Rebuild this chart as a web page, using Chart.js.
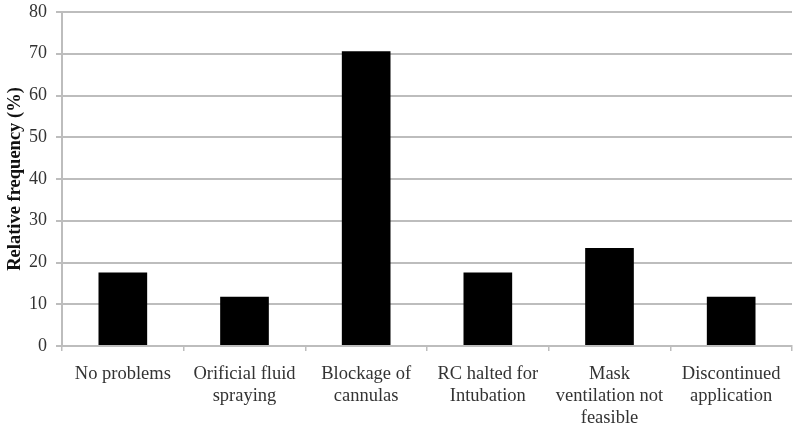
<!DOCTYPE html>
<html>
<head>
<meta charset="utf-8">
<script src="https://cdn.jsdelivr.net/npm/chart.js@4.4.1/dist/chart.umd.min.js"></script>
<style>
  html, body { margin: 0; padding: 0; background: #fff; }
  #wrap { width: 800px; height: 425px; position: relative; }
</style>
</head>
<body>
<div id="wrap"><canvas id="chart"></canvas></div>
<script>
// categories (multi-line labels as in the figure)
const categories = [
    ['No problems'],
    ['Orificial fluid', 'spraying'],
    ['Blockage of', 'cannulas'],
    ['RC halted for', 'Intubation'],
    ['Mask', 'ventilation not', 'feasible'],
    ['Discontinued', 'application']
];
// relative frequency (%)
const frequency = [17.6, 11.8, 70.6, 17.6, 23.5, 11.8];
const yTicks = { min: 0, max: 80, step: 10 };

const gridGray = '#bdbdbd';
const serif = '"Liberation Serif", "Times New Roman", serif';

new Chart(document.getElementById('chart'), {
    type: 'bar',
    data: {
        labels: categories,
        datasets: [{
            data: frequency,
            backgroundColor: '#000',
            borderWidth: 0,
            barPercentage: 0.4,
            categoryPercentage: 1.0
        }]
    },
    options: {
        responsive: true,
        maintainAspectRatio: false,
        animation: false,
        layout: { padding: { top: 12, right: 8, left: 0, bottom: 0 } },
        plugins: { legend: { display: false }, tooltip: { enabled: false } },
        scales: {
            x: {
                offset: true,
                grid: { offset: true, drawOnChartArea: false, color: gridGray, lineWidth: 1.5, tickLength: 5 },
                border: { color: gridGray, width: 2 },
                ticks: { color: '#333', font: { family: serif, size: 18.5, lineHeight: 1.2 }, maxRotation: 0, autoSkip: false, padding: 12 },
                afterFit: (axis) => { axis.height = 79; }
            },
            y: {
                min: yTicks.min,
                max: yTicks.max,
                grid: { color: gridGray, lineWidth: 2, tickLength: 6 },
                border: { color: gridGray, width: 2 },
                ticks: { stepSize: yTicks.step, color: '#333', font: { family: serif, size: 18 }, padding: 9 },
                title: {
                    display: true,
                    text: 'Relative frequency (%)',
                    color: '#111',
                    font: { family: serif, size: 18.5, weight: 'bold' },
                    padding: { top: 4, bottom: 0 }
                },
                afterFit: (axis) => {
                    axis.width = 62;
                    axis.paddingTop = 0;
                    axis.paddingBottom = 0;
                }
            }
        }
    }
});
</script>
</body>
</html>
